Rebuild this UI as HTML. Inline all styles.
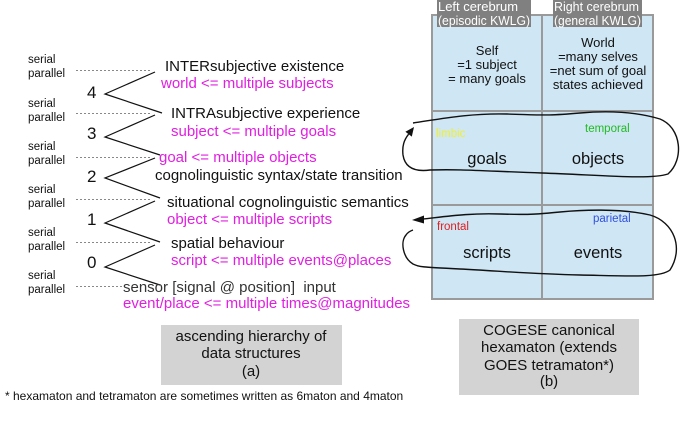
<!DOCTYPE html>
<html>
<head>
<meta charset="utf-8">
<style>
html,body{margin:0;padding:0;background:#fff;}
body{width:682px;height:432px;overflow:hidden;position:relative;}
svg{position:absolute;left:0;top:0;}
text{font-family:"Liberation Sans",Arial,sans-serif;}
</style>
</head>
<body>
<svg width="682" height="432" viewBox="0 0 682 432" xmlns="http://www.w3.org/2000/svg">
  <!-- Grid (b) -->
  <rect x="432" y="15" width="221" height="284" fill="#cfe6f4" stroke="#9a9a9a" stroke-width="2"/>
  <line x1="542" y1="15" x2="542" y2="299" stroke="#9a9a9a" stroke-width="2"/>
  <line x1="432" y1="111" x2="653" y2="111" stroke="#9a9a9a" stroke-width="2"/>
  <line x1="432" y1="205" x2="653" y2="205" stroke="#9a9a9a" stroke-width="2"/>

  <!-- headers -->
  <rect x="437" y="0" width="94" height="27" fill="#808080"/>
  <rect x="553" y="0" width="89" height="27" fill="#808080"/>
  <text x="438" y="11" font-size="13" fill="#fff" textLength="80" lengthAdjust="spacingAndGlyphs">Left cerebrum</text>
  <text x="438" y="25" font-size="13" fill="#fff" textLength="92" lengthAdjust="spacingAndGlyphs">(episodic KWLG)</text>
  <text x="554" y="11" font-size="13" fill="#fff" textLength="85" lengthAdjust="spacingAndGlyphs">Right cerebrum</text>
  <text x="554" y="25" font-size="13" fill="#fff" textLength="87" lengthAdjust="spacingAndGlyphs">(general KWLG)</text>

  <!-- top cells -->
  <g font-size="13" fill="#111" text-anchor="middle">
    <text x="487" y="55">Self</text>
    <text x="487" y="69">=1 subject</text>
    <text x="487" y="83">= many goals</text>
    <text x="598" y="47">World</text>
    <text x="598" y="61">=many selves</text>
    <text x="598" y="75">=net sum of goal</text>
    <text x="598" y="89">states achieved</text>
  </g>

  <!-- middle cells -->
  <text x="436" y="137" font-size="11.5" fill="#f0f030">limbic</text>
  <text x="585" y="132" font-size="11.5" fill="#22bb22">temporal</text>
  <text x="487" y="164" font-size="16.5" fill="#111" text-anchor="middle">goals</text>
  <text x="598" y="164" font-size="16.5" fill="#111" text-anchor="middle">objects</text>

  <!-- bottom cells -->
  <text x="437" y="230" font-size="11.5" fill="#e02020">frontal</text>
  <text x="593" y="222" font-size="11.5" fill="#3050e0">parietal</text>
  <text x="487" y="258" font-size="16.5" fill="#111" text-anchor="middle">scripts</text>
  <text x="598" y="258" font-size="16.5" fill="#111" text-anchor="middle">events</text>

  <!-- upper loop -->
  <path d="M 413 123 C 440 119, 470 113, 507 114 S 545 116, 580 113 S 640 113, 660 119 C 682 128, 684 160, 668 174 C 650 180, 600 175, 542 173 S 460 169, 430 170 C 415 172, 405 168, 403 155 C 402 146, 404 140, 408.6 134.2" fill="none" stroke="#111" stroke-width="1.4"/>
  <polygon points="414,127 411.8,136.6 405.4,131.8" fill="#111"/>

  <!-- lower loop -->
  <path d="M 423 219 C 450 216, 470 213, 500 214 S 540 214, 560 212 S 620 208, 650 215 C 674 222, 684 248, 670 270 C 660 278, 630 276, 580 275 S 500 271, 460 269 S 420 267, 413 264 C 403 258, 400 242, 406 235 C 408 232, 410 231, 413 230" fill="none" stroke="#111" stroke-width="1.4"/>
  <polygon points="412,220 424,215.5 424,223.5" fill="#111"/>

  <!-- box (b) -->
  <rect x="459" y="319" width="180" height="76" fill="#d3d3d3"/>
  <g font-size="15" fill="#111" text-anchor="middle">
    <text x="549" y="335">COGESE canonical</text>
    <text x="549" y="352">hexamaton (extends</text>
    <text x="549" y="370">GOES tetramaton*)</text>
    <text x="549" y="386">(b)</text>
  </g>

  <!-- box (a) -->
  <rect x="161" y="325" width="181" height="60" fill="#d3d3d3"/>
  <g font-size="15" fill="#111" text-anchor="middle">
    <text x="251" y="341">ascending hierarchy of</text>
    <text x="251" y="358">data structures</text>
    <text x="251" y="376">(a)</text>
  </g>

  <!-- footnote -->
  <text x="5" y="400" font-size="12" fill="#111">* hexamaton and tetramaton are sometimes written as 6maton and 4maton</text>

  <!-- serial / parallel labels -->
  <g font-size="11.5" fill="#111">
    <text x="28" y="63">serial</text><text x="28" y="77">parallel</text>
    <text x="28" y="107">serial</text><text x="28" y="121">parallel</text>
    <text x="28" y="150">serial</text><text x="28" y="164">parallel</text>
    <text x="28" y="193">serial</text><text x="28" y="207">parallel</text>
    <text x="28" y="236">serial</text><text x="28" y="250">parallel</text>
    <text x="28" y="279">serial</text><text x="28" y="293">parallel</text>
  </g>

  <!-- dotted lines -->
  <g stroke="#888" stroke-width="1" stroke-dasharray="2,2">
    <line x1="76" y1="70.5" x2="150" y2="70.5"/>
    <line x1="76" y1="113.5" x2="150" y2="113.5"/>
    <line x1="76" y1="157.5" x2="150" y2="157.5"/>
    <line x1="76" y1="199.5" x2="150" y2="199.5"/>
    <line x1="76" y1="242.5" x2="150" y2="242.5"/>
    <line x1="76" y1="286.5" x2="124" y2="286.5"/>
  </g>

  <!-- numbers -->
  <g font-size="17" fill="#111">
    <text x="87" y="98">4</text>
    <text x="87" y="139">3</text>
    <text x="87" y="182">2</text>
    <text x="87" y="225">1</text>
    <text x="87" y="268">0</text>
  </g>

  <!-- zigzags -->
  <g fill="none" stroke="#111" stroke-width="1.2">
    <polyline points="155,72 105,94 162,113"/>
    <polyline points="155,115 105,137 160,155"/>
    <polyline points="155,158 105,178 160,198"/>
    <polyline points="155,201 105,223 160,242"/>
    <polyline points="155,245 105,267 160,285"/>
  </g>

  <!-- hierarchy texts -->
  <g font-size="15">
    <text x="165" y="71" fill="#111">INTERsubjective existence</text>
    <text x="161" y="88" fill="#e020e0">world &lt;= multiple subjects</text>
    <text x="171" y="118" fill="#111">INTRAsubjective experience</text>
    <text x="171" y="136" fill="#e020e0">subject &lt;= multiple goals</text>
    <text x="159" y="162" fill="#e020e0">goal &lt;= multiple objects</text>
    <text x="155" y="180" fill="#111">cognolinguistic syntax/state transition</text>
    <text x="167" y="207" fill="#111">situational cognolinguistic semantics</text>
    <text x="167" y="224" fill="#e020e0">object &lt;= multiple scripts</text>
    <text x="171" y="248" fill="#111">spatial behaviour</text>
    <text x="171" y="265" fill="#e020e0">script &lt;= multiple events@places</text>
    <text x="123" y="292" fill="#333">sensor [signal @ position]&#160; input</text>
    <text x="123" y="308" fill="#e020e0">event/place &lt;= multiple times@magnitudes</text>
  </g>
</svg>
</body>
</html>
